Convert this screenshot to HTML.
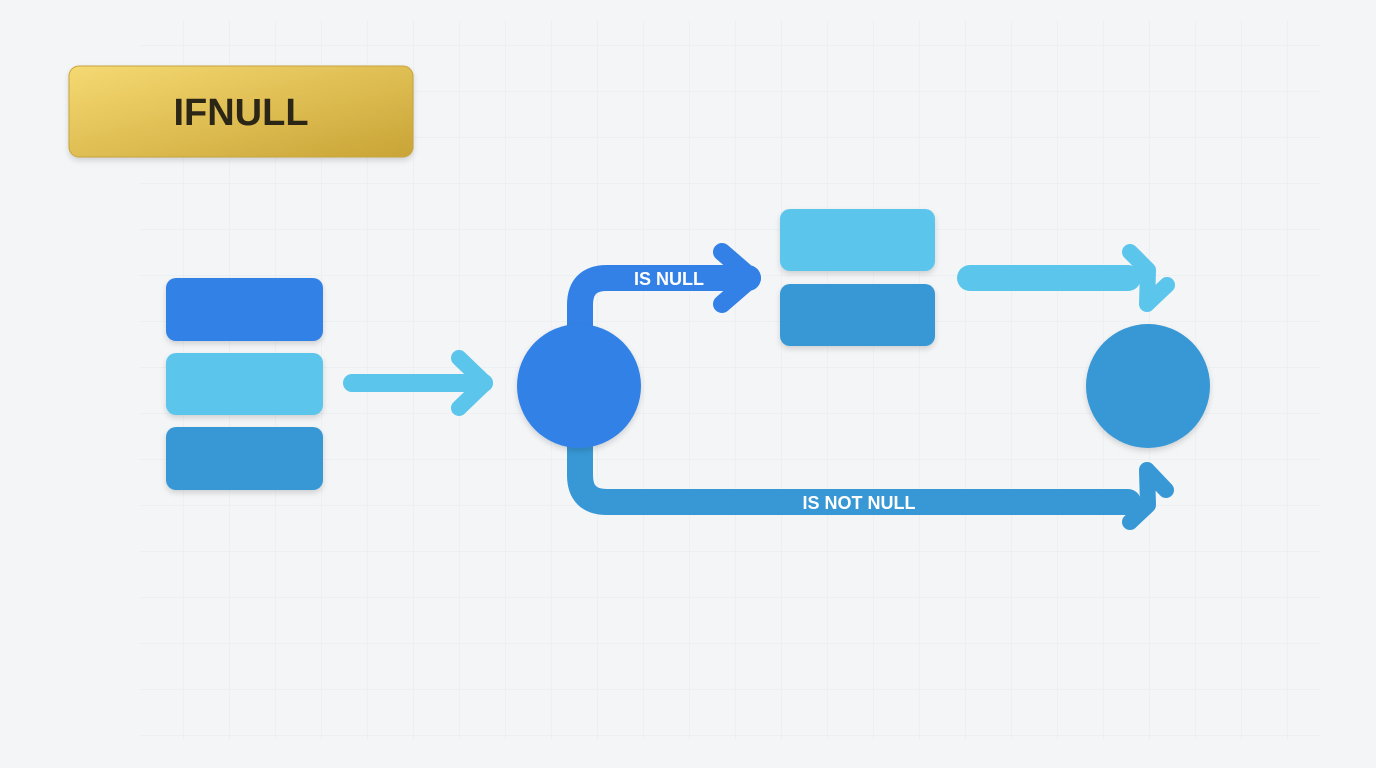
<!DOCTYPE html>
<html><head><style>
html,body{margin:0;padding:0;width:1376px;height:768px;overflow:hidden;background:#f3f5f7}
</style></head><body>
<svg width="1376" height="768" xmlns="http://www.w3.org/2000/svg">
<defs>
<pattern id="g" width="46" height="46" patternUnits="userSpaceOnUse" x="0" y="0">
<path d="M46 0V46H0" fill="none" stroke="#e4e8ec" stroke-width="1"/>
</pattern>
<linearGradient id="gold" x1="0" y1="0" x2="1" y2="1">
<stop offset="0" stop-color="#f5d972"/><stop offset="1" stop-color="#c9a436"/>
</linearGradient>
<filter id="sh" x="-20%" y="-20%" width="140%" height="150%"><feDropShadow dx="0" dy="3" stdDeviation="3" flood-color="#000" flood-opacity="0.15"/></filter>
</defs>
<rect width="1376" height="768" fill="#f3f5f7"/>
<rect x="140" y="20" width="1180" height="720" fill="url(#g)" opacity="0.8"/>
<rect x="69" y="66" width="344" height="91" rx="10" fill="url(#gold)" stroke="#c9a43a" filter="url(#sh)"/>
<text x="241" y="125" text-anchor="middle" font-family="Liberation Sans, sans-serif" font-weight="bold" font-size="38" fill="#2b2616">IFNULL</text>

<g filter="url(#sh)">
<rect x="166" y="278" width="157" height="63" rx="10" fill="#3381e6"/>
<rect x="166" y="353" width="157" height="62" rx="10" fill="#5bc5ec"/>
<rect x="166" y="427" width="157" height="63" rx="10" fill="#3798d5"/>
<rect x="780" y="209" width="155" height="62" rx="10" fill="#5bc5ec"/>
<rect x="780" y="284" width="155" height="62" rx="10" fill="#3798d5"/>
</g>

<g fill="none" stroke-linecap="round" stroke-linejoin="round">
<path d="M352 383H484" stroke="#5bc5ec" stroke-width="18"/>
<path d="M459 358L485 383L459 408" stroke="#5bc5ec" stroke-width="16"/>
<path d="M580 335V305Q580 278 607 278H748" stroke="#3381e6" stroke-width="26"/>
<path d="M722 252L752 278L722 304" stroke="#3381e6" stroke-width="18"/>
<path d="M970 278H1128" stroke="#5bc5ec" stroke-width="26"/>
<path d="M1130 252L1148 270L1147 304M1167 285L1147 304" stroke="#5bc5ec" stroke-width="16"/>
<path d="M580 440V475Q580 502 607 502H1128" stroke="#3798d5" stroke-width="26"/>
<path d="M1130 522L1148 505L1147 470M1166 490L1147 470" stroke="#3798d5" stroke-width="16"/>
</g>

<g filter="url(#sh)">
<circle cx="579" cy="386" r="62" fill="#3381e6"/>
<circle cx="1148" cy="386" r="62" fill="#3798d5"/>
</g>

<text x="669" y="285" text-anchor="middle" font-family="Liberation Sans, sans-serif" font-weight="bold" font-size="18" fill="#fff">IS NULL</text>
<text x="859" y="509" text-anchor="middle" font-family="Liberation Sans, sans-serif" font-weight="bold" font-size="18" fill="#fff">IS NOT NULL</text>
</svg>
</body></html>
